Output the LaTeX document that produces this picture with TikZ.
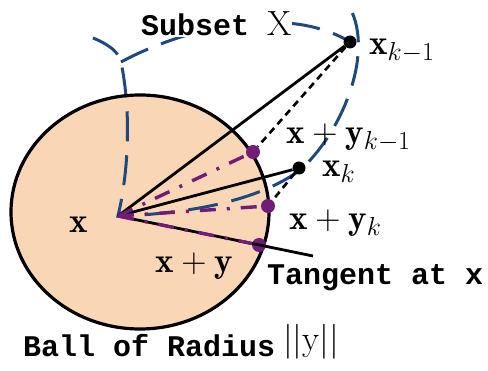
\RequirePackage{fix-cm}
\documentclass[tikz,border=0pt]{standalone}
\usepackage{fontspec}
\newfontfamily\monob{Liberation Mono}
\DeclareMathSizes{35}{35}{26}{20}
\definecolor{ballfill}{RGB}{249,214,182}
\definecolor{setblue}{RGB}{31,73,125}
\definecolor{ptpurple}{RGB}{112,28,120}
\tikzset{
  ballborder/.style={line width=3.2pt},
  setline/.style={setblue, line width=3pt, dash pattern=on 30pt off 14pt},
  ray/.style={line width=2.8pt},
  proj/.style={line width=2.6pt, dash pattern=on 7pt off 5pt},
  pline/.style={ptpurple, line width=3.4pt, dash pattern=on 16pt off 11pt on 3pt off 11pt},
  bdot/.style={circle, fill=black, inner sep=0pt, minimum size=13pt},
  pdot/.style={circle, fill=ptpurple, inner sep=0pt, minimum size=14pt},
  mlabel/.style={anchor=base west, inner sep=0pt, font=\fontsize{35}{42}\selectfont},
  tlabel/.style={anchor=base west, inner sep=0pt, font=\monob\bfseries\fontsize{30}{35}\selectfont},
}
\begin{document}
\begin{tikzpicture}[x=1pt,y=-1pt]
\useasboundingbox (0,0) rectangle (488,371);
% ball
\fill[ballfill] (140,212) ellipse [x radius=129pt, y radius=117pt];
% key points
\coordinate (X) at (118,216);
\coordinate (C) at (121,62);
\coordinate (T) at (313,256);
% subset X boundary
\draw[setline] (93,38) .. controls (108,44) and (119,52) .. (C)
  .. controls (131,110) and (129,170) .. (X)
  .. controls (190,214) and (260,200) .. (300,170)
  .. controls (340,135) and (375,55) .. (350,8);
\draw[setline] (C) .. controls (190,25) and (290,5) .. (350,42);
\draw[ballborder] (140,212) ellipse [x radius=129pt, y radius=117pt];
% dots
\node[bdot] (xk1) at (350,42) {};
\node[bdot] (xk) at (299,168) {};
\node[pdot] (yk1) at (253,152) {};
\node[pdot] (yk) at (268,206) {};
\node[pdot] (y) at (259,245) {};
% rays
\draw[ray] (X) -- (xk1);
\draw[ray] (X) -- (xk);
\draw[ray] (X) -- (T);
\draw[proj] (xk1) -- (yk1);
\draw[proj] (xk) -- (yk);
\draw[pline] (X) -- (yk1);
\draw[pline] (X) -- (yk);
\draw[pline] (X) -- (y);
% labels
\node[tlabel, fill=white, inner sep=1pt] (lsub) at (140,36) {Subset {\fontsize{35}{42}\selectfont$\mathrm{X}$}};
\node[mlabel] (lxk1) at (369,55) {$\mathbf{x}_{k-1}$};
\node[mlabel] (lyk1) at (286,144) {$\mathbf{x}+\mathbf{y}_{k-1}$};
\node[mlabel] (lxk) at (322,177) {$\mathbf{x}_{k}$};
\node[mlabel] (lyk) at (289,230) {$\mathbf{x}+\mathbf{y}_{k}$};
\node[mlabel] (lx) at (69,233) {$\mathbf{x}$};
\node[mlabel] (ly) at (155,273) {$\mathbf{x}+\mathbf{y}$};
\node[tlabel] (ltan) at (267,285) {Tangent at x};
\node[tlabel] (lball) at (23,357) {Ball of Radius};
\node[mlabel] (lnorm) at (283,351) {$||\mathrm{y}||$};
\end{tikzpicture}
\end{document}
